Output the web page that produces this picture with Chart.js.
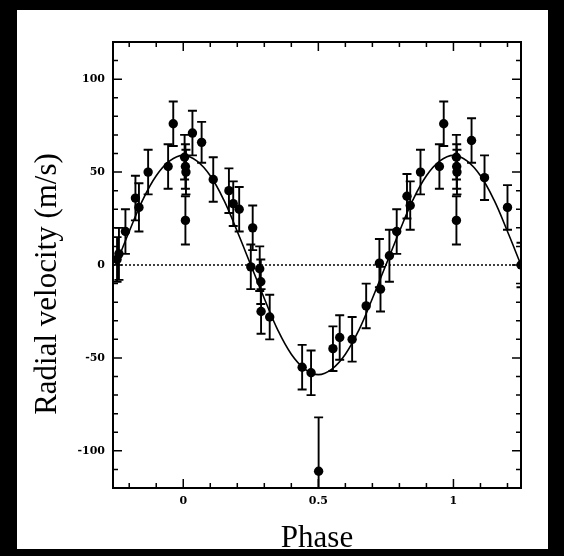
<!DOCTYPE html>
<html>
<head>
<meta charset="utf-8">
<script src="https://cdn.jsdelivr.net/npm/chart.js@4.4.1/dist/chart.umd.min.js"></script>
<style>
  html, body { margin: 0; padding: 0; background: #000; width: 564px; height: 556px; overflow: hidden; }
  #paper { position: absolute; left: 17px; top: 10px; width: 531px; height: 539px; background: #fff; }
  #wrap { position: absolute; left: 0; top: 0; width: 564px; height: 556px; }
</style>
</head>
<body>
<div id="paper"></div>
<div id="wrap"><canvas id="rv" width="564" height="556"></canvas></div>
<script>
// Observed radial velocities folded on orbital phase (phase range shown twice past 0..1)
const phase = [
  -0.245, -0.238, -0.214, -0.177, -0.164, -0.130, -0.056, -0.037,
   0.005,  0.008,  0.010,  0.008,  0.034,  0.068,  0.111,  0.169,
   0.185,  0.207,  0.257,  0.250,  0.283,  0.287,  0.288,  0.320,
   0.440,  0.473,  0.501,  0.554,  0.579,  0.625,  0.677,  0.726,
   0.730,  0.763,  0.790,  0.828,  0.840,  0.878,  0.948,  0.964,
   1.011,  1.012,  1.013,  1.011,  1.067,  1.115,  1.200,  1.250
];
const velocity = [
    3,    6,   18,   36,   31,   50,   53,   76,
   58,   53,   50,   24,   71,   66,   46,   40,
   33,   30,   20,   -1,   -2,   -9,  -25,  -28,
  -55,  -58, -111,  -45,  -39,  -40,  -22,    1,
  -13,    5,   18,   37,   32,   50,   53,   76,
   58,   53,   50,   24,   67,   47,   31,    0
];
const velocityError = [
  12, 14, 12, 12, 13, 12, 12, 12,
  12, 12, 12, 13, 12, 11, 12, 12,
  12, 12, 12, 12, 12, 12, 12, 12,
  12, 12, 29, 12, 12, 12, 12, 13,
  12, 14, 12, 12, 13, 12, 12, 12,
  12, 12, 12, 13, 12, 12, 12, 12
];

// Orbital fit curve
const fitPhase = [
  -0.25, -0.20, -0.15, -0.10, -0.05, 0.00, 0.05, 0.10, 0.15, 0.20, 0.25,
   0.30,  0.35,  0.40,  0.45,  0.50, 0.55, 0.60, 0.65, 0.70, 0.75,
   0.80,  0.85,  0.90,  0.95,  1.00, 1.05, 1.10, 1.15, 1.20, 1.25
];
const fitVelocity = [
    0,  18,  35,  48,  56,  59,  56,  48,  35,  18,   0,
  -18, -35, -48, -56, -59, -56, -48, -35, -18,   0,
   18,  35,  48,  56,  59,  56,  48,  35,  18,   0
];

// Axis ticks
const xTickValues = [-0.2, -0.1, 0, 0.1, 0.2, 0.3, 0.4, 0.5, 0.6, 0.7, 0.8, 0.9, 1, 1.1, 1.2];
const xMajorValues = [0, 0.5, 1];
const xMajorLabels = ['0', '0.5', '1'];
const yTickValues = [-110, -100, -90, -80, -70, -60, -50, -40, -30, -20, -10, 0,
                     10, 20, 30, 40, 50, 60, 70, 80, 90, 100, 110];
const yMajorValues = [-100, -50, 0, 50, 100];
const yMajorLabels = ['-100', '-50', '0', '50', '100'];

const xTitle = 'Phase';
const yTitle = 'Radial velocity (m/s)';

const X_MIN = -0.26, X_MAX = 1.25, Y_MIN = -120, Y_MAX = 120;

const errorBars = {
  id: 'errorBars',
  beforeDatasetsDraw(chart) {
    const { ctx, chartArea: a } = chart;
    const x = chart.scales.x, y = chart.scales.y;
    ctx.save();
    ctx.beginPath();
    ctx.rect(a.left, a.top, a.right - a.left, a.bottom - a.top);
    ctx.clip();
    ctx.strokeStyle = '#000';
    ctx.lineWidth = 1.9;
    phase.forEach((p, i) => {
      const px = x.getPixelForValue(p);
      const yt = y.getPixelForValue(velocity[i] + velocityError[i]);
      const yb = y.getPixelForValue(velocity[i] - velocityError[i]);
      ctx.beginPath();
      ctx.moveTo(px, yt); ctx.lineTo(px, yb);
      ctx.moveTo(px - 4.5, yt); ctx.lineTo(px + 4.5, yt);
      ctx.moveTo(px - 4.5, yb); ctx.lineTo(px + 4.5, yb);
      ctx.stroke();
    });
    ctx.restore();
  }
};

const frameTicks = {
  id: 'frameTicks',
  afterDraw(chart) {
    const { ctx, chartArea: a } = chart;
    const x = chart.scales.x, y = chart.scales.y;
    ctx.save();
    ctx.strokeStyle = '#000';
    ctx.lineWidth = 1.5;
    xTickValues.forEach(v => {
      const px = x.getPixelForValue(v);
      const len = xMajorValues.includes(v) ? 9 : 5;
      ctx.beginPath();
      ctx.moveTo(px, a.bottom); ctx.lineTo(px, a.bottom - len);
      ctx.moveTo(px, a.top); ctx.lineTo(px, a.top + len);
      ctx.stroke();
    });
    yTickValues.forEach(v => {
      const py = y.getPixelForValue(v);
      const len = yMajorValues.includes(v) ? 9 : 5;
      ctx.beginPath();
      ctx.moveTo(a.left, py); ctx.lineTo(a.left + len, py);
      ctx.moveTo(a.right, py); ctx.lineTo(a.right - len, py);
      ctx.stroke();
    });
    ctx.lineWidth = 2;
    ctx.strokeRect(a.left, a.top, a.right - a.left, a.bottom - a.top);

    // axis titles
    ctx.fillStyle = '#000';
    ctx.font = '31px "Liberation Serif"';
    ctx.textAlign = 'center';
    ctx.textBaseline = 'alphabetic';
    ctx.fillText(xTitle, (a.left + a.right) / 2, 547);
    ctx.translate(56, 284);
    ctx.rotate(-Math.PI / 2);
    ctx.fillText(yTitle, 0, 0);
    ctx.restore();
  }
};

const tickFont = { family: 'DejaVu Serif', size: 11, weight: 'bold' };

new Chart(document.getElementById('rv'), {
  type: 'scatter',
  data: {
    datasets: [
      {
        label: 'Measurements',
        data: phase.map((p, i) => ({ x: p, y: velocity[i] })),
        pointRadius: 4.7,
        pointBackgroundColor: '#000',
        pointBorderColor: '#000',
        pointBorderWidth: 0,
        showLine: false
      },
      {
        label: 'Orbit',
        data: fitPhase.map((p, i) => ({ x: p, y: fitVelocity[i] })),
        showLine: true,
        borderColor: '#000',
        borderWidth: 1.6,
        pointRadius: 0,
        tension: 0.4,
        fill: false
      },
      {
        label: 'Zero',
        data: [{ x: X_MIN, y: 0 }, { x: X_MAX, y: 0 }],
        showLine: true,
        borderColor: '#000',
        borderWidth: 1.4,
        borderDash: [2, 2],
        pointRadius: 0,
        fill: false
      }
    ]
  },
  options: {
    responsive: false,
    animation: false,
    layout: { padding: { left: 0, top: 42, right: 43, bottom: 0 } },
    plugins: { legend: { display: false }, tooltip: { enabled: false } },
    scales: {
      x: {
        type: 'linear',
        min: X_MIN,
        max: X_MAX,
        afterBuildTicks: s => { s.ticks = xTickValues.map(v => ({ value: v })); },
        afterFit: s => { s.height = 68; },
        grid: { display: false, drawTicks: false },
        border: { display: false },
        ticks: {
          autoSkip: false,
          maxRotation: 0,
          padding: 7,
          color: '#000',
          font: tickFont,
          callback: v => { const i = xMajorValues.indexOf(v); return i >= 0 ? xMajorLabels[i] : ''; }
        },
        title: { display: false }
      },
      y: {
        type: 'linear',
        min: Y_MIN,
        max: Y_MAX,
        afterBuildTicks: s => { s.ticks = yTickValues.map(v => ({ value: v })); },
        afterFit: s => { s.width = 113; },
        grid: { display: false, drawTicks: false },
        border: { display: false },
        ticks: {
          autoSkip: false,
          padding: 8,
          color: '#000',
          font: tickFont,
          callback: v => { const i = yMajorValues.indexOf(v); return i >= 0 ? yMajorLabels[i] : ''; }
        },
        title: { display: false }
      }
    }
  },
  plugins: [errorBars, frameTicks]
});
</script>
</body>
</html>
